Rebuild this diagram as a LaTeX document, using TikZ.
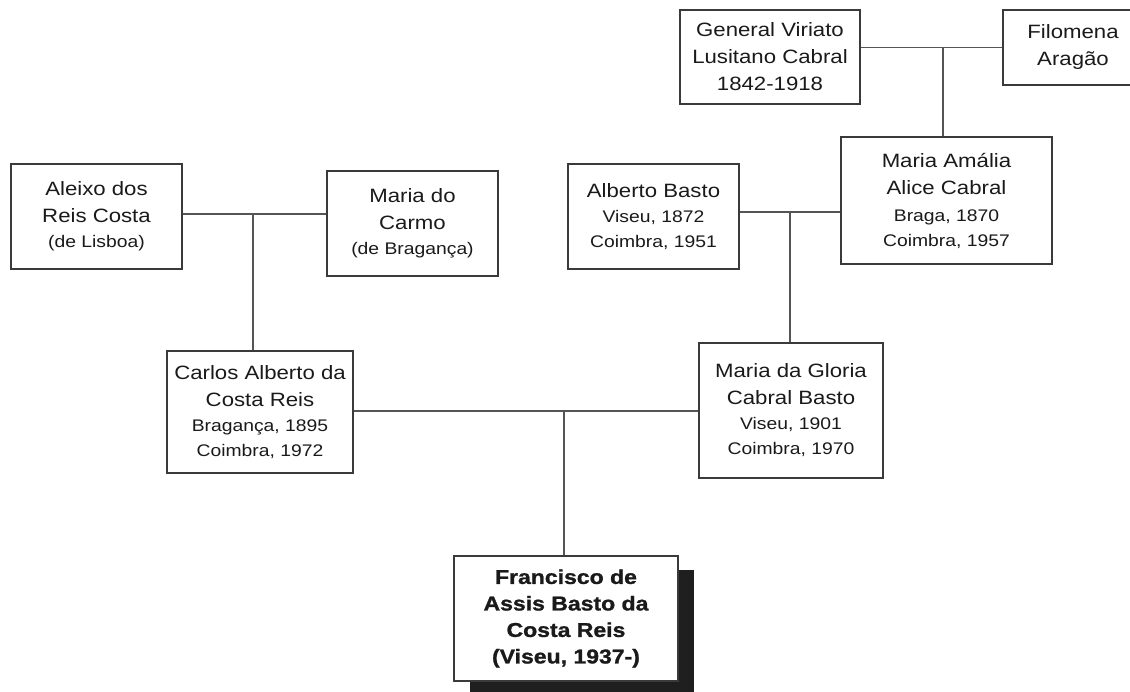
\documentclass[tikz,border=0pt]{standalone}
\usepackage{fontspec}
\setmainfont{Liberation Sans}[FakeStretch=1.15, BoldFeatures={FakeBold=1.2}]
\newcommand{\bigf}{\fontsize{19.3}{27}\selectfont}
\newcommand{\smf}{\fontsize{16.8}{25}\selectfont}
\newcommand{\bldf}{\fontsize{20}{26.5}\selectfont\bfseries}
\definecolor{ln}{HTML}{555555}
\definecolor{bx}{HTML}{3A3A3A}
\definecolor{tx}{HTML}{1A1A1A}
\begin{document}
\begin{tikzpicture}[x=1pt,y=-1pt,
  person/.style={draw=bx, line width=1.2pt, fill=white, text=tx, align=center, inner sep=0pt, font=\bigf},
  link/.style={draw=ln, line width=1.1pt}]
\useasboundingbox[fill=white] (0,0) rectangle (1130,692);
% nodes
\node[person, minimum width=180pt, minimum height=94pt] (gen) at (770,57) {General Viriato\\Lusitano Cabral\\1842-1918};
\node[person, minimum width=140pt, minimum height=75pt] (filo) at (1073,47.5) {Filomena\\Aragão};
\node[person, minimum width=211pt, minimum height=127pt] (mam) at (946.5,200.5) {Maria Amália\\Alice Cabral\\{\smf Braga, 1870}\\[-2pt]{\smf Coimbra, 1957}};
\node[person, minimum width=171pt, minimum height=105pt] (alb) at (653.5,216.5) {Alberto Basto\\[-2pt]{\smf Viseu, 1872}\\[-2pt]{\smf Coimbra, 1951}};
\node[person, minimum width=171pt, minimum height=105pt] (alx) at (96.5,216.5) {Aleixo dos\\Reis Costa\\[-2pt]{\smf (de Lisboa)}};
\node[person, minimum width=171pt, minimum height=105pt] (mdc) at (412.5,223.5) {Maria do\\Carmo\\[-2pt]{\smf (de Bragança)}};
\node[person, minimum width=186pt, minimum height=122pt] (car) at (260,412) {Carlos Alberto da\\Costa Reis\\[-2pt]{\smf Bragança, 1895}\\[-2pt]{\smf Coimbra, 1972}};
\node[person, minimum width=184pt, minimum height=135pt] (mdg) at (791,410.5) {Maria da Gloria\\Cabral Basto\\[-2pt]{\smf Viseu, 1901}\\[-2pt]{\smf Coimbra, 1970}};
\fill[black!88] (470,570) rectangle (694,695);
\node[person, font=\bldf, minimum width=224pt, minimum height=125pt] (fra) at (566,618.5) {Francisco de\\Assis Basto da\\Costa Reis\\(Viseu, 1937-)};
% junctions
\coordinate (m1) at (943,47.5);
\coordinate (m2) at (790,212);
\coordinate (m3) at (253,214);
\coordinate (m4) at (564,411);
% connectors
\draw[link] (gen.east |- m1) -- (filo.west |- m1);
\draw[link] (m1) -- (m1 |- mam.north);
\draw[link] (alb.east |- m2) -- (mam.west |- m2);
\draw[link] (m2) -- (m2 |- mdg.north);
\draw[link] (alx.east |- m3) -- (mdc.west |- m3);
\draw[link] (m3) -- (m3 |- car.north);
\draw[link] (car.east |- m4) -- (mdg.west |- m4);
\draw[link] (m4) -- (m4 |- fra.north);
\end{tikzpicture}
\end{document}
